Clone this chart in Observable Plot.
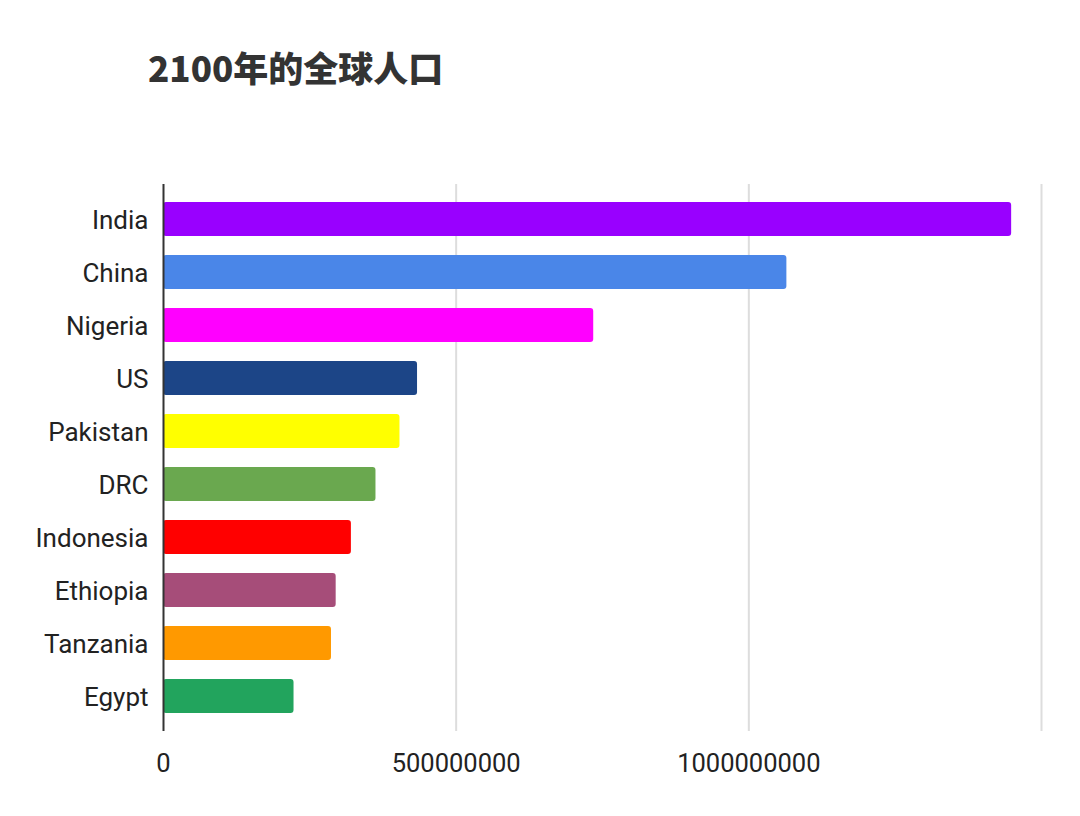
<!DOCTYPE html>
<html>
<head>
<meta charset="utf-8">
<script src="https://cdn.jsdelivr.net/npm/d3@7"></script>
<script src="https://cdn.jsdelivr.net/npm/@observablehq/plot@0.6"></script>
<style>
  html, body { margin: 0; padding: 0; background: #fff; }
  #title {
    height: 120px; box-sizing: border-box;
    padding: 50px 0 0 148px;
    font-family: "Noto Sans CJK SC", "Noto Sans", sans-serif;
    font-weight: 900; font-size: 35px; line-height: 34px; color: #333;
  }
  #chart svg { display: block; }
</style>
</head>
<body>
<div id="title">2100年的全球人口</div>
<div id="chart"></div>
<script>
const countries = ["India", "China", "Nigeria", "US", "Pakistan", "DRC", "Indonesia", "Ethiopia", "Tanzania", "Egypt"];
const population = [1449000000, 1065000000, 735000000, 434000000, 404000000, 363000000, 321000000, 295000000, 287000000, 223000000];
const barColors = ["#9900ff", "#4a86e8", "#ff00ff", "#1c4587", "#ffff00", "#6aa84f", "#ff0000", "#a64d79", "#ff9900", "#22a45d"];
const xTicks = [0, 500000000, 1000000000];
const gridTicks = [500000000, 1000000000, 1500000000];

const data = countries.map((c, i) => ({country: c, value: population[i], color: barColors[i]}));

const chart = Plot.plot({
  width: 1080,
  height: 696,
  marginTop: 64,
  marginBottom: 85,
  marginLeft: 163,
  marginRight: 39,
  style: {fontFamily: "Roboto, sans-serif", color: "#222", background: "#fff"},
  x: {domain: [0, 1500000000]},
  y: {domain: countries, paddingInner: 0.357, paddingOuter: 0.31},
  marks: [
    Plot.gridX(gridTicks, {stroke: "#dddddd", strokeOpacity: 1, strokeWidth: 2}),
    Plot.barX(data, {x: "value", y: "country", fill: "color", rx: 3}),
    Plot.ruleX([0], {stroke: "#333", strokeWidth: 2}),
    Plot.axisX({ticks: xTicks, tickFormat: d => String(d), tickSize: 0, tickPadding: 22, fontSize: 25.5, label: null}),
    Plot.axisY({tickSize: 0, tickPadding: 15, fontSize: 26, dy: 1, label: null})
  ]
});
document.getElementById("chart").appendChild(chart);
</script>
</body>
</html>
